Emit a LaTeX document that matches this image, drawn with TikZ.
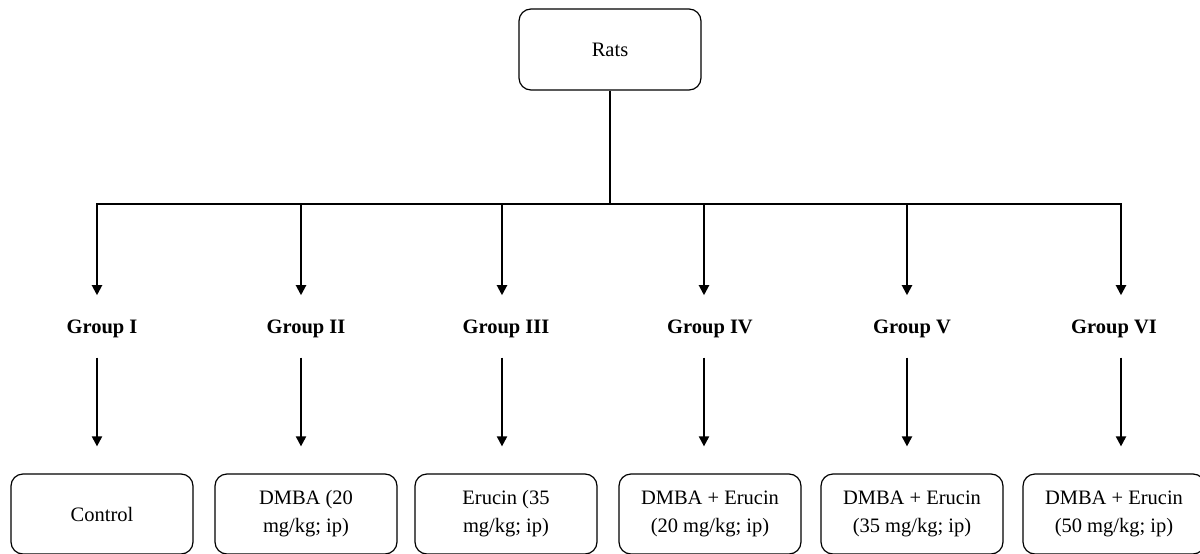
\documentclass[tikz,border=0pt]{standalone}
\usepackage{fontspec}
\setmainfont{Liberation Serif}
\usepackage{tikz}
\usetikzlibrary{positioning,calc,arrows.meta}

\tikzset{
  roundbox/.style={draw, line width=1.2pt, rounded corners=12pt, minimum width=182pt,
    minimum height=80pt, align=center, inner sep=2pt,
    font=\fontsize{20.5}{28}\selectfont},
  grouplabel/.style={anchor=base, inner sep=0pt, font=\fontsize{20.5}{28}\selectfont\bfseries},
  tree/.style={line width=2pt},
  flow/.style={line width=2pt, -{Triangle[width=10pt,length=10pt]}}
}

\begin{document}
\begin{tikzpicture}[x=1pt,y=-1pt]
			\useasboundingbox (0,0) rectangle (1200,554);
			
			% Top box
			\node[roundbox, minimum height=81pt] (rats) at (610,49.5) {Rats};
			\coordinate (hub) at (610,204);
			\draw[tree] (rats.south) -- (hub);
			
			% Columns: arrow x / label x / group / treatment
			\foreach \i/\xa/\xb/\grp/\trt in {
				1/97/102/I/{Control},
				2/301/306/II/{DMBA (20\\mg/kg; ip)},
				3/502/506/III/{Erucin (35\\mg/kg; ip)},
				4/704/710/IV/{DMBA + Erucin\\(20 mg/kg; ip)},
				5/907/912/V/{DMBA + Erucin\\(35 mg/kg; ip)},
				6/1121/1114/VI/{DMBA + Erucin\\(50 mg/kg; ip)}} {
				\coordinate (b\i) at (\xa,204);
				\node[grouplabel] (g\i) at (\xb,333) {Group \grp};
				\node[roundbox] (t\i) at (\xb,514) {\trt};
				\draw[flow, shorten >=24pt] (b\i) -- (g\i.north -| b\i);
				\draw[flow, shorten <=20pt, shorten >=27pt] (g\i.south -| b\i) -- (t\i.north -| b\i);
			}
			
			% Horizontal bar
			\draw[tree, line cap=rect] (b1) -- (b6);
		\end{tikzpicture}
\end{document}
